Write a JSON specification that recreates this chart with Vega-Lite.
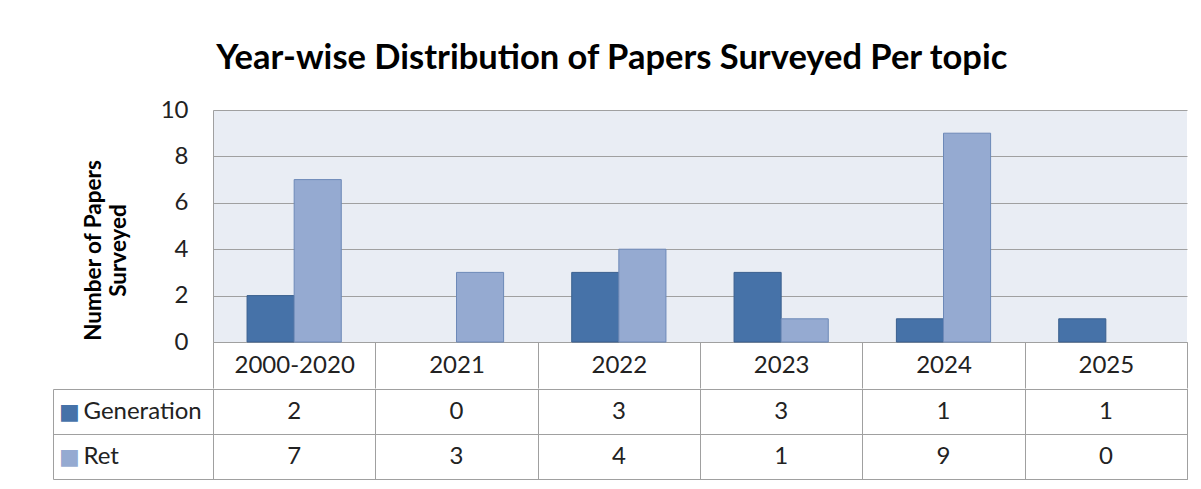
{
  "$schema": "https://vega.github.io/schema/vega-lite/v6.json",
  "padding": {"left": 52, "top": 40, "right": 10, "bottom": 5},
  "background": "white",
  "title": {
    "text": "Year-wise Distribution of Papers Surveyed Per topic",
    "font": "Lato", "fontSize": 34.5, "fontWeight": "bold", "color": "#000000",
    "anchor": "middle", "offset": 22, "dx": -8
  },
  "data": {
    "values": [
      {"period": "2000-2020", "series": "Generation", "value": 2},
      {"period": "2000-2020", "series": "Ret", "value": 7},
      {"period": "2021", "series": "Generation", "value": 0},
      {"period": "2021", "series": "Ret", "value": 3},
      {"period": "2022", "series": "Generation", "value": 3},
      {"period": "2022", "series": "Ret", "value": 4},
      {"period": "2023", "series": "Generation", "value": 3},
      {"period": "2023", "series": "Ret", "value": 1},
      {"period": "2024", "series": "Generation", "value": 1},
      {"period": "2024", "series": "Ret", "value": 9},
      {"period": "2025", "series": "Generation", "value": 1},
      {"period": "2025", "series": "Ret", "value": 0}
    ]
  },
  "spacing": -14,
  "vconcat": [
    {
      "width": 974, "height": 232,
      "view": {"fill": "#E9EDF4", "stroke": null},
      "transform": [{"filter": "datum.value > 0"}],
      "mark": {"type": "bar", "strokeWidth": 1},
      "encoding": {
        "x": {
          "field": "period", "type": "nominal",
          "sort": ["2000-2020", "2021", "2022", "2023", "2024", "2025"],
          "scale": {"domain": ["2000-2020", "2021", "2022", "2023", "2024", "2025"], "paddingInner": 0, "paddingOuter": 0},
          "axis": {
            "title": null, "labelAngle": 0, "labelFont": "Lato", "labelFontSize": 24, "labelColor": "#222222",
            "labelBaseline": "middle", "labelPadding": -23,
            "domain": true, "domainColor": "#A0A0A0", "ticks": true, "tickSize": 46, "tickBand": "extent",
            "tickColor": "#A0A0A0", "grid": false, "minExtent": 0
          }
        },
        "xOffset": {
          "field": "series", "type": "nominal",
          "scale": {"paddingOuter": 0.723, "paddingInner": 0}
        },
        "y": {
          "field": "value", "type": "quantitative",
          "scale": {"domain": [0, 10]},
          "axis": {
            "values": [0, 2, 4, 6, 8, 10],
            "title": ["Number of Papers", "Surveyed"],
            "titleFont": "Lato", "titleFontSize": 22.5, "titleFontWeight": "bold", "titleColor": "#000000",
            "titleLineHeight": 25, "titleX": -120, "titleY": 140, "titleAlign": "center", "titleBaseline": "middle",
            "labelFont": "Lato", "labelFontSize": 24, "labelColor": "#222222", "labelPadding": 25,
            "ticks": false, "domain": true, "domainColor": "#A0A0A0",
            "grid": true, "gridColor": "#A0A0A0", "minExtent": 0
          }
        },
        "color": {
          "field": "series", "type": "nominal",
          "scale": {"domain": ["Generation", "Ret"], "range": ["#4672A8", "#95AAD1"]},
          "legend": null
        },
        "stroke": {
          "field": "series", "type": "nominal",
          "scale": {"domain": ["Generation", "Ret"], "range": ["#3A5F8E", "#6D89B8"]},
          "legend": null
        }
      }
    },
    {
      "width": 974, "height": 90,
      "view": {"stroke": "#A0A0A0", "fill": "white"},
      "resolve": {"scale": {"y": "independent"}},
      "layer": [
        {
          "mark": {"type": "text", "font": "Lato", "fontSize": 24, "color": "#222222", "baseline": "middle"},
          "encoding": {
            "x": {
              "field": "period", "type": "nominal",
              "scale": {"domain": ["2000-2020", "2021", "2022", "2023", "2024", "2025"], "paddingInner": 0, "paddingOuter": 0},
              "axis": {"title": null, "labels": false, "ticks": false, "domain": false, "grid": true, "gridColor": "#A0A0A0", "tickBand": "extent", "minExtent": 0}
            },
            "y": {
              "field": "series", "type": "nominal",
              "scale": {"domain": ["Generation", "Ret"], "paddingInner": 0, "paddingOuter": 0},
              "axis": {
                "orient": "left", "title": null,
                "labelFont": "Lato", "labelFontSize": 24, "labelColor": "#222222", "labelAlign": "left",
                "labelBaseline": "middle", "labelPadding": -30,
                "ticks": true, "tickSize": 160, "tickColor": "#A0A0A0", "tickBand": "extent",
                "domain": true, "domainColor": "#A0A0A0",
                "grid": true, "gridColor": "#A0A0A0", "minExtent": 0
              }
            },
            "text": {"field": "value", "type": "quantitative"}
          }
        },
        {
          "mark": {"type": "rect", "fillOpacity": 0, "strokeOpacity": 0},
          "encoding": {
            "x": {
              "field": "period", "type": "nominal",
              "scale": {"domain": ["2000-2020", "2021", "2022", "2023", "2024", "2025"], "paddingInner": 0, "paddingOuter": 0},
              "axis": {"title": null, "labels": false, "ticks": false, "domain": false, "grid": true, "gridColor": "#A0A0A0", "tickBand": "extent", "minExtent": 0}
            },
            "y": {
              "field": "series", "type": "nominal",
              "scale": {"domain": ["Generation", "Ret"], "paddingInner": 0, "paddingOuter": 0},
              "axis": {
                "orient": "left", "title": null, "offset": 160,
                "labelExpr": "'■'", "labelFont": "DejaVu Sans", "labelFontSize": 22,
                "labelColor": {"condition": {"test": "datum.value === 'Ret'", "value": "#95AAD1"}, "value": "#4672A8"},
                "labelAlign": "center", "labelBaseline": "middle", "labelPadding": -16,
                "ticks": false, "domain": true, "domainColor": "#A0A0A0", "grid": false, "minExtent": 0
              }
            }
          }
        }
      ]
    }
  ]
}
